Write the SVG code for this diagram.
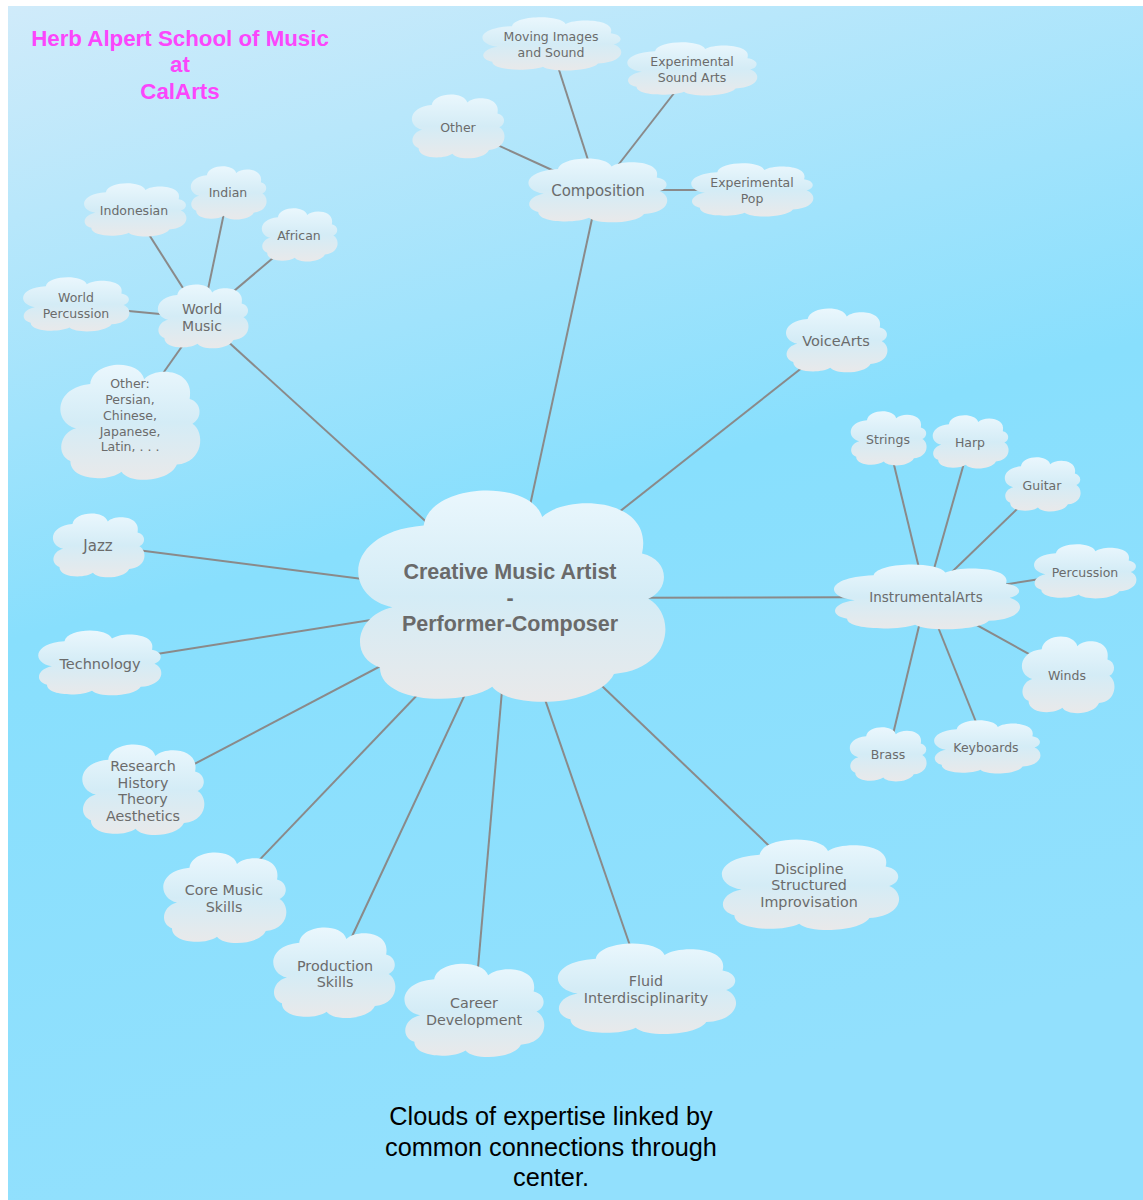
<svg xmlns="http://www.w3.org/2000/svg" xmlns:xlink="http://www.w3.org/1999/xlink" width="1143" height="1200" viewBox="0 0 1143 1200">
<defs>
<linearGradient id="bg" x1="0" y1="0" x2="0.25" y2="1">
<stop offset="0" stop-color="#d0ebfa"/>
<stop offset="0.5" stop-color="#88dffd"/>
<stop offset="1" stop-color="#92e0fd"/>
</linearGradient>
<linearGradient id="cg" x1="0" y1="0" x2="0" y2="1">
<stop offset="0" stop-color="#eaf7fd"/>
<stop offset="0.5" stop-color="#d4ecf6"/>
<stop offset="1" stop-color="#e9e9ea"/>
</linearGradient>
<path id="cloud" d="M12,55 C-4,50 -4,20 22,17 C24,-3 56,-5 60,13 C68,2 96,4 92,30 C101,33 101,47 94,51 C103,58 102,84 83,86 C78,101 50,103 44,92 C35,101 8,100 8,83 C-2,78 0,59 12,55 Z" fill="url(#cg)"/>
<style>
.t{font-family:"DejaVu Sans",sans-serif;fill:#6b6b6b;text-anchor:middle;font-size:14.3px}
.s{font-size:12.5px}
.c{font-family:"Liberation Sans",Arial,sans-serif;font-weight:bold;fill:#6a6a6a;text-anchor:middle;font-size:21.5px}
.ttl{font-family:"Liberation Sans",Arial,sans-serif;font-weight:bold;fill:#fb46fb;text-anchor:middle;font-size:22.3px}
.cap{font-family:"Liberation Sans",Arial,sans-serif;fill:#000;text-anchor:middle;font-size:25.3px}
#connectors line{stroke:#8a8a8a;stroke-width:2}
</style>
</defs>
<rect x="0" y="0" width="1143" height="1200" fill="#fff"/>
<rect x="8" y="6" width="1135" height="1194" fill="url(#bg)"/>

<g id="connectors">
<line x1="510" y1="598" x2="598" y2="191"/>
<line x1="510" y1="598" x2="836" y2="341"/>
<line x1="510" y1="598" x2="926" y2="597"/>
<line x1="510" y1="598" x2="809" y2="884"/>
<line x1="510" y1="598" x2="646" y2="992"/>
<line x1="510" y1="598" x2="474" y2="1014"/>
<line x1="510" y1="598" x2="334" y2="975"/>
<line x1="510" y1="598" x2="224" y2="897"/>
<line x1="510" y1="598" x2="143" y2="791"/>
<line x1="510" y1="598" x2="100" y2="663"/>
<line x1="510" y1="598" x2="98" y2="545"/>
<line x1="510" y1="598" x2="202" y2="318"/>
<line x1="598" y1="191" x2="551" y2="45"/>
<line x1="598" y1="191" x2="692" y2="70"/>
<line x1="598" y1="191" x2="458" y2="127"/>
<line x1="598" y1="190" x2="752" y2="190"/>
<line x1="202" y1="318" x2="134" y2="211"/>
<line x1="202" y1="318" x2="228" y2="194"/>
<line x1="202" y1="318" x2="299" y2="236"/>
<line x1="202" y1="318" x2="76" y2="306"/>
<line x1="202" y1="318" x2="130" y2="420"/>
<line x1="926" y1="597" x2="888" y2="440"/>
<line x1="926" y1="597" x2="970" y2="442"/>
<line x1="926" y1="597" x2="1042" y2="485"/>
<line x1="926" y1="597" x2="1085" y2="572"/>
<line x1="926" y1="597" x2="1067" y2="675"/>
<line x1="926" y1="597" x2="986" y2="747"/>
<line x1="926" y1="597" x2="888" y2="755"/>
</g>

<g id="center">
<use xlink:href="#cloud" transform="translate(355,489) scale(3.12,2.15)"/>
<text class="c" x="510" y="579">Creative Music Artist</text>
<text class="c" x="510" y="605">-</text>
<text class="c" x="510" y="631">Performer-Composer</text>
</g>

<g id="composition">
<use xlink:href="#cloud" transform="translate(527,158) scale(1.41,0.65)"/>
<text class="t" style="font-size:15px" x="598" y="196">Composition</text>
</g>
<g id="moving-images">
<use xlink:href="#cloud" transform="translate(481,17) scale(1.41,0.54)"/>
<text class="t s" x="551" y="41">Moving Images</text>
<text class="t s" x="551" y="57">and Sound</text>
</g>
<g id="exp-sound-arts">
<use xlink:href="#cloud" transform="translate(626,42) scale(1.32,0.54)"/>
<text class="t s" x="692" y="66">Experimental</text>
<text class="t s" x="692" y="82">Sound Arts</text>
</g>
<g id="comp-other">
<use xlink:href="#cloud" transform="translate(411,94) scale(0.94,0.65)"/>
<text class="t s" x="458" y="132">Other</text>
</g>
<g id="exp-pop">
<use xlink:href="#cloud" transform="translate(690,163) scale(1.24,0.54)"/>
<text class="t s" x="752" y="187">Experimental</text>
<text class="t s" x="752" y="203">Pop</text>
</g>

<g id="voicearts">
<use xlink:href="#cloud" transform="translate(785,308) scale(1.03,0.65)"/>
<text class="t" style="font-size:14.5px" x="836" y="346">VoiceArts</text>
</g>

<g id="instrumentalarts">
<use xlink:href="#cloud" transform="translate(832,564) scale(1.89,0.66)"/>
<text class="t" style="font-size:13.5px" x="926" y="602">InstrumentalArts</text>
</g>
<g id="strings">
<use xlink:href="#cloud" transform="translate(850,411) scale(0.77,0.55)"/>
<text class="t s" x="888" y="444">Strings</text>
</g>
<g id="harp">
<use xlink:href="#cloud" transform="translate(932,415) scale(0.77,0.54)"/>
<text class="t s" x="970" y="447">Harp</text>
</g>
<g id="guitar">
<use xlink:href="#cloud" transform="translate(1004,457) scale(0.77,0.55)"/>
<text class="t s" x="1042" y="490">Guitar</text>
</g>
<g id="percussion">
<use xlink:href="#cloud" transform="translate(1033,544) scale(1.04,0.55)"/>
<text class="t s" x="1085" y="577">Percussion</text>
</g>
<g id="winds">
<use xlink:href="#cloud" transform="translate(1021,636) scale(0.94,0.78)"/>
<text class="t s" x="1067" y="680">Winds</text>
</g>
<g id="keyboards">
<use xlink:href="#cloud" transform="translate(933,720) scale(1.08,0.54)"/>
<text class="t s" x="986" y="752">Keyboards</text>
</g>
<g id="brass">
<use xlink:href="#cloud" transform="translate(849,727) scale(0.78,0.55)"/>
<text class="t s" x="888" y="759">Brass</text>
</g>

<g id="discipline">
<use xlink:href="#cloud" transform="translate(720,839) scale(1.8,0.92)"/>
<text class="t" x="809" y="874">Discipline</text>
<text class="t" x="809" y="890">Structured</text>
<text class="t" x="809" y="907">Improvisation</text>
</g>
<g id="fluid">
<use xlink:href="#cloud" transform="translate(556,943) scale(1.81,0.92)"/>
<text class="t" x="646" y="986">Fluid</text>
<text class="t" x="646" y="1003">Interdisciplinarity</text>
</g>
<g id="career">
<use xlink:href="#cloud" transform="translate(403,963) scale(1.42,0.95)"/>
<text class="t" x="474" y="1008">Career</text>
<text class="t" x="474" y="1025">Development</text>
</g>
<g id="production">
<use xlink:href="#cloud" transform="translate(272,927) scale(1.24,0.92)"/>
<text class="t" x="335" y="971">Production</text>
<text class="t" x="335" y="987">Skills</text>
</g>
<g id="core-music">
<use xlink:href="#cloud" transform="translate(162,852) scale(1.25,0.92)"/>
<text class="t" x="224" y="895">Core Music</text>
<text class="t" x="224" y="912">Skills</text>
</g>
<g id="research">
<use xlink:href="#cloud" transform="translate(81,744) scale(1.24,0.92)"/>
<text class="t" x="143" y="771">Research</text>
<text class="t" x="143" y="788">History</text>
<text class="t" x="143" y="804">Theory</text>
<text class="t" x="143" y="821">Aesthetics</text>
</g>
<g id="technology">
<use xlink:href="#cloud" transform="translate(37,630) scale(1.25,0.66)"/>
<text class="t" style="font-size:14.5px" x="100" y="669">Technology</text>
</g>
<g id="jazz">
<use xlink:href="#cloud" transform="translate(52,513) scale(0.93,0.65)"/>
<text class="t" style="font-size:15px" x="98" y="551">Jazz</text>
</g>

<g id="world-music">
<use xlink:href="#cloud" transform="translate(157,284) scale(0.92,0.65)"/>
<text class="t" style="font-size:14px" x="202" y="314">World</text>
<text class="t" style="font-size:14px" x="202" y="331">Music</text>
</g>
<g id="indonesian">
<use xlink:href="#cloud" transform="translate(83,183) scale(1.04,0.54)"/>
<text class="t s" x="134" y="215">Indonesian</text>
</g>
<g id="indian">
<use xlink:href="#cloud" transform="translate(190,166) scale(0.77,0.54)"/>
<text class="t s" x="228" y="197">Indian</text>
</g>
<g id="african">
<use xlink:href="#cloud" transform="translate(261,208) scale(0.77,0.54)"/>
<text class="t s" x="299" y="240">African</text>
</g>
<g id="world-percussion">
<use xlink:href="#cloud" transform="translate(22,277) scale(1.08,0.55)"/>
<text class="t s" x="76" y="302">World</text>
<text class="t s" x="76" y="318">Percussion</text>
</g>
<g id="world-other">
<use xlink:href="#cloud" transform="translate(59,364) scale(1.42,1.17)"/>
<text class="t s" x="130" y="388">Other:</text>
<text class="t s" x="130" y="404">Persian,</text>
<text class="t s" x="130" y="420">Chinese,</text>
<text class="t s" x="130" y="436">Japanese,</text>
<text class="t s" x="130" y="451">Latin, . . .</text>
</g>

<g id="title">
<text class="ttl" x="180" y="46">Herb Alpert School of Music</text>
<text class="ttl" x="180" y="72">at</text>
<text class="ttl" x="180" y="99">CalArts</text>
</g>
<g id="caption">
<text class="cap" x="551" y="1125">Clouds of expertise linked by</text>
<text class="cap" x="551" y="1156">common connections through</text>
<text class="cap" x="551" y="1186">center.</text>
</g>
</svg>
